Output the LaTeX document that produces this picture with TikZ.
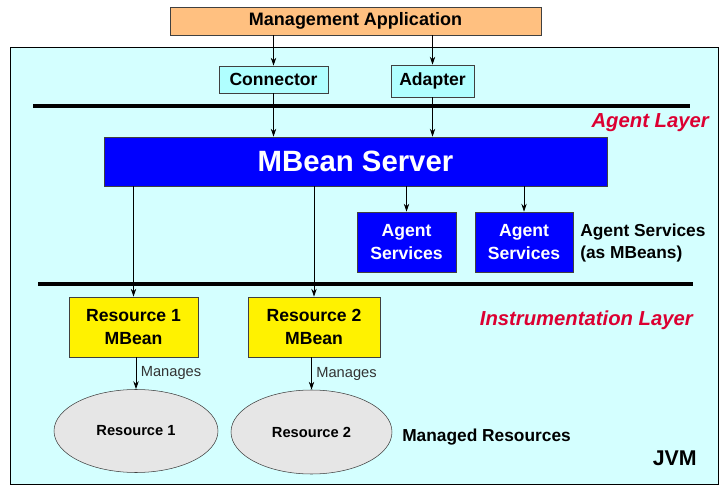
\documentclass[tikz,border=0pt]{standalone}
\usepackage{fontspec}
\setmainfont{Liberation Sans}
\usetikzlibrary{arrows.meta,shapes.geometric}
\definecolor{jvmcyan}{RGB}{212,255,255}
\definecolor{conncyan}{RGB}{176,255,255}
\definecolor{mgmtorange}{RGB}{255,192,128}
\definecolor{layerred}{RGB}{220,0,50}
\definecolor{resgray}{RGB}{230,230,230}

\begin{document}
\begin{tikzpicture}[x=0.75pt,y=-0.75pt,
   box/.style={draw=black!75,align=center,inner sep=0pt,
      font=\bfseries\fontsize{13.2}{17}\selectfont},
   bluebox/.style={box,fill=blue,text=white},
   res/.style={ellipse,draw=black!75,fill=resgray,inner sep=0pt,
      font=\bfseries\fontsize{11}{13}\selectfont},
   arr/.style={-{Stealth[length=6pt,width=4pt]},line width=0.6pt},
   bar/.style={line width=2.6pt},
   layer/.style={anchor=east,inner sep=0pt,text=layerred,
      font=\bfseries\itshape\fontsize{15.2}{18}\selectfont},
   lbl/.style={anchor=west,align=left,inner sep=0pt,
      font=\bfseries\fontsize{13}{17}\selectfont}]

   \useasboundingbox (0,0) rectangle (728,491);
   \draw[fill=jvmcyan,line width=0.6pt] (10,47) rectangle (718,484);

   \node[box,fill=mgmtorange,minimum width=278.25pt,minimum height=21pt,
      font=\bfseries\fontsize{13.5}{16}\selectfont]
      (mgmt) at (355.5,21) {Management Application};
   \node[box,fill=conncyan,minimum width=81.75pt,minimum height=20.25pt]
      (conn) at (273.5,79.5) {Connector};
   \node[box,fill=conncyan,minimum width=62.25pt,minimum height=24pt]
      (adapt) at (432.5,81) {Adapter};

   \draw[bar] (33,106) -- (690,106);
   \node[layer] (agentlayer) at (709,123) {Agent Layer};

   \node[bluebox,minimum width=377.25pt,minimum height=36.75pt,
      font=\bfseries\fontsize{22}{26}\selectfont]
      (mbs) at (355.5,161.5) {MBean Server};

   \node[bluebox,minimum width=74.25pt,minimum height=45pt]
      (as1) at (406.5,242) {Agent\\Services};
   \node[bluebox,minimum width=73.5pt,minimum height=45pt]
      (as2) at (524,242) {Agent\\Services};
   \node[lbl] (aslbl) at (580,243) {Agent Services\\(as MBeans)};

   \draw[bar] (38,284) -- (693,284);
   \node[layer] (instrlayer) at (693,320) {Instrumentation Layer};

   \node[box,fill=yellow,minimum width=96.75pt,minimum height=45pt]
      (r1mb) at (133.5,327) {Resource 1\\MBean};
   \node[box,fill=yellow,minimum width=99pt,minimum height=45pt]
      (r2mb) at (314,327) {Resource 2\\MBean};

   \node[res,minimum width=123pt,minimum height=62.25pt]
      (r1) at (136,431) {Resource 1};
   \node[res,minimum width=120.75pt,minimum height=63pt]
      (r2) at (311.5,432) {Resource 2};
   \node[lbl,font=\bfseries\fontsize{13}{15}\selectfont] (mreslbl) at (402,437) {Managed Resources};
   \node[anchor=east,inner sep=0pt,font=\bfseries\fontsize{16}{19}\selectfont] (jvm) at (697,458) {JVM};

   \draw[arr] (conn |- mgmt.south) -- (conn.north);
   \draw[arr] (adapt |- mgmt.south) -- (adapt.north);
   \draw[arr] (conn.south) -- (conn |- mbs.north);
   \draw[arr] (adapt.south) -- (adapt |- mbs.north);
   \draw[arr] (as1 |- mbs.south) -- (as1.north);
   \draw[arr] (as2 |- mbs.south) -- (as2.north);
   \draw[arr] (r1mb |- mbs.south) -- (r1mb.north);
   \draw[arr] (r2mb |- mbs.south) -- (r2mb.north);
   \draw[arr] (r1mb.south -| r1) -- (r1.north)
      node[midway,anchor=west,text=black!80,font=\fontsize{11}{13}\selectfont] {Manages};
   \draw[arr] (r2mb.south -| r2) -- (r2.north)
      node[midway,anchor=west,text=black!80,font=\fontsize{11}{13}\selectfont] {Manages};
\end{tikzpicture}
\end{document}
